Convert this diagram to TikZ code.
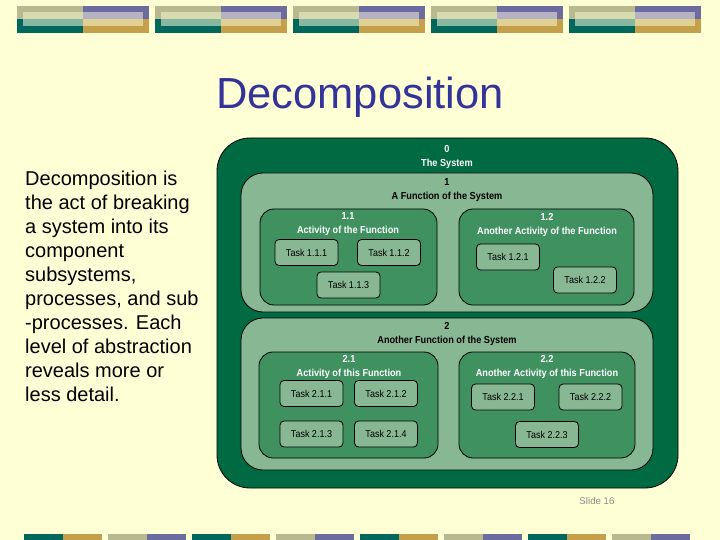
\documentclass[tikz,border=0pt]{standalone}
\usepackage{fontspec}
\setmainfont{Liberation Sans}
\newfontfamily\condfont[FakeStretch=0.9]{Liberation Sans}
\usepackage{tikz}
\usetikzlibrary{calc,positioning}
\usepackage{xcolor}

\definecolor{slidebg}{HTML}{FFFFD5}
\definecolor{titleblue}{HTML}{333399}
\definecolor{sysgreen}{HTML}{006B43}
\definecolor{fngreen}{HTML}{88B893}
\definecolor{actgreen}{HTML}{3F9160}
\definecolor{barolive}{HTML}{B9B98F}
\definecolor{barpurple}{HTML}{6B6B9F}
\definecolor{barteal}{HTML}{00675C}
\definecolor{bargold}{HTML}{C4A04C}
\definecolor{lightolive}{HTML}{D8DAB0}
\definecolor{lightpurple}{HTML}{B3B3C4}
\definecolor{lightteal}{HTML}{86B8A2}
\definecolor{lightgold}{HTML}{E0D193}

\begin{document}
\begin{tikzpicture}[x=1pt, y=-1pt,
  box/.style={draw=black, line width=0.8pt, inner sep=0pt, outer sep=0pt},
  sysbox/.style={box, fill=sysgreen, rounded corners=33pt},
  fnbox/.style={box, fill=fngreen, rounded corners=22pt, minimum width=412pt},
  actbox/.style={box, fill=actgreen, rounded corners=14pt},
  task/.style={box, fill=fngreen, rounded corners=4pt, minimum width=63pt, minimum height=26pt, font=\condfont\fontsize{10}{11}\selectfont},
  hdr/.style={align=center, inner sep=0pt, font=\condfont\bfseries\fontsize{10.2}{14}\selectfont}
]
\useasboundingbox (0,0) rectangle (720,540);
\fill[slidebg] (0,0) rectangle (720,540);

% bars at the top and bottom
\foreach \i [evaluate=\i as \xa using 17+138*\i] in {0,...,4} {
  \fill[barolive] (\xa,6) rectangle ++(66,13.5);
  \fill[barpurple] (\xa+66,6) rectangle ++(66,13.5);
  \fill[barteal] (\xa,19.5) rectangle ++(66,13.5);
  \fill[bargold] (\xa+66,19.5) rectangle ++(66,13.5);
  \fill[lightolive] (\xa+6,12) rectangle ++(60,7.5);
  \fill[lightpurple] (\xa+66,12) rectangle ++(60,7.5);
  \fill[lightteal] (\xa+6,19.5) rectangle ++(60,6.5);
  \fill[lightgold] (\xa+66,19.5) rectangle ++(60,6.5);
}
\foreach \i [evaluate=\i as \xa using 24+168*\i] in {0,...,3} {
  \fill[barteal] (\xa,534) rectangle ++(39,6);
  \fill[bargold] (\xa+39,534) rectangle ++(39,6);
  \fill[barolive] (\xa+84,534) rectangle ++(39,6);
  \fill[barpurple] (\xa+123,534) rectangle ++(39,6);
}

\node[anchor=base, text=titleblue, font=\fontsize{43.5}{50}\selectfont] (title) at (360,109) {Decomposition};
\node[anchor=north west, inner sep=0pt, align=left, font=\fontsize{20}{24}\selectfont] (intro) at (25,170.5)
  {Decomposition is\\the act of breaking\\a system into its\\component\\subsystems,\\processes, and sub\\-processes. Each\\level of abstraction\\reveals more or\\less detail.};
\node[text=black!45, font=\fontsize{9.7}{11}\selectfont] (slideno) at (597,501) {Slide 16};

% nested boxes
\node[sysbox, minimum width=461pt, minimum height=350pt] (sys) at (447.5,313) {};
\node[fnbox, minimum height=139pt] (fn1) at (447,242.5) {};
\node[fnbox, minimum height=152pt] (fn2) at (447,394) {};
\node[actbox, minimum width=177pt, minimum height=96pt] (act11) at (348.5,257) {};
\node[actbox, minimum width=175pt, minimum height=96pt] (act12) at (546.5,257) {};
\node[actbox, minimum width=179pt, minimum height=106pt] (act21) at (348.5,405) {};
\node[actbox, minimum width=176pt, minimum height=106pt] (act22) at (547,405) {};

\node[hdr, text=white] (lsys) at (447,157) {0\\The System};
\node[hdr] (lfn1) at (447,190.5) {1\\A Function of the System};
\node[hdr, text=white] (lact11) at (348,224.5) {1.1\\Activity of the Function};
\node[hdr, text=white] (lact12) at (547,224.5) {1.2\\Another Activity of the Function};
\node[hdr] (lfn2) at (447,334) {2\\Another Function of the System};
\node[hdr, text=white] (lact21) at (349,367) {2.1\\Activity of this Function};
\node[hdr, text=white] (lact22) at (547,367) {2.2\\Another Activity of this Function};

% tasks
\node[task] (t111) at (306.5,252.5) {Task 1.1.1};
\node[task] (t112) at (389,252.5) {Task 1.1.2};
\node[task] (t113) at (348.5,285) {Task 1.1.3};
\node[task] (t121) at (508,257) {Task 1.2.1};
\node[task] (t122) at (585,280) {Task 1.2.2};
\node[task] (t211) at (311.5,393.5) {Task 2.1.1};
\node[task] (t212) at (386,393.5) {Task 2.1.2};
\node[task] (t213) at (311.5,434) {Task 2.1.3};
\node[task] (t214) at (386,434) {Task 2.1.4};
\node[task] (t221) at (503,397) {Task 2.2.1};
\node[task] (t222) at (590.5,397) {Task 2.2.2};
\node[task] (t223) at (547,434.5) {Task 2.2.3};
\end{tikzpicture}
\end{document}
